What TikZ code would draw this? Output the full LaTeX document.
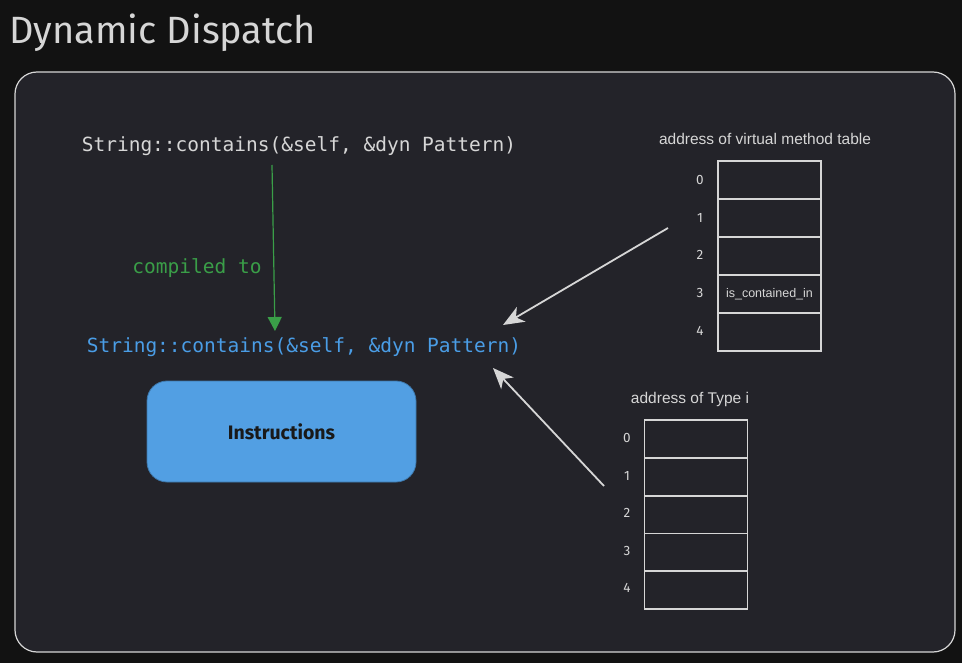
\documentclass[tikz,border=0pt]{standalone}
\usepackage{fontspec}
\setmainfont{Liberation Sans}
\newfontfamily\handf{Fira Sans}
\newfontfamily\monof{DejaVu Sans Mono}
\usetikzlibrary{arrows.meta}
\definecolor{canvas}{HTML}{121212}
\definecolor{panel}{HTML}{232329}
\definecolor{ink}{HTML}{D6D6D6}
\definecolor{codeblue}{HTML}{4A9DE6}
\definecolor{codegreen}{HTML}{3A9E48}
\definecolor{boxblue}{HTML}{529FE3}
\begin{document}
\begin{tikzpicture}[x=1pt,y=-1pt,
  code/.style={font=\monof\fontsize{19.5}{22}\selectfont, inner sep=0pt},
  cell/.style={draw=ink, line width=1.6, minimum width=103, minimum height=38, inner sep=0pt},
  idx/.style={text=ink, font=\handf\fontsize{13.5}{15}\selectfont, inner sep=0pt},
  lbl/.style={text=ink, font=\fontsize{15.5}{18}\selectfont, inner sep=0pt},
  wharrow/.style={draw=ink, line width=1.8, -{Stealth[length=21,width=17,inset=6]}},
]
\useasboundingbox (0,0) rectangle (962,663);
\fill[canvas] (0,0) rectangle (962,663);
\draw[ink, fill=panel, rounded corners=22, line width=1.2] (15,72) rectangle (955,652);

\node[anchor=west, text=ink, inner sep=0pt, font=\handf\fontsize{38}{42}\selectfont] (title) at (9,33) {Dynamic Dispatch};

\node[code, text=ink] (src) at (299,146) {String::contains(\&self, \&dyn Pattern)};
\node[code, text=codeblue] (dst) at (304,347) {String::contains(\&self, \&dyn Pattern)};
\node[code, text=codegreen] (comp) at (197,268) {compiled to};

\coordinate (g1) at (272,165);
\coordinate (g2) at (275,331);
\draw[codegreen, line width=1.2, -{Triangle[length=14,width=14]}] (g1) -- (g2);

\node[draw=boxblue!75!black, line width=0.8, fill=boxblue, rounded corners=20, minimum width=269, minimum height=101, inner sep=0pt,
  font=\handf\bfseries\fontsize{19.5}{22}\selectfont, text=black!90] (instr) at (281.5,431.5) {Instructions};

% virtual method table
\node[lbl] (vlbl) at (765,139) {address of virtual method table};
\foreach \i in {0,...,4} {
  \node[cell] (v\i) at (769.5,{180+38*\i}) {};
  \node[idx] (vi\i) at (700,{180+37.7*\i}) {\i};
}
\node[text=ink, font=\fontsize{12.5}{14}\selectfont, inner sep=0pt] (vt3) at (v3) {is\_contained\_in};

% type i table
\node[lbl] (tlbl) at (690,399) {address of Type i};
\foreach \i in {0,...,4} {
  \node[cell] (t\i) at (696,{439+37.8*\i}) {};
  \node[idx] (ti\i) at (627,{438+37.5*\i}) {\i};
}

\coordinate (a1s) at (668,228);
\coordinate (a1e) at (503,325);
\draw[wharrow] (a1s) -- (a1e);
\coordinate (a2s) at (604,486);
\coordinate (a2e) at (493,368);
\draw[wharrow] (a2s) -- (a2e);
\end{tikzpicture}
\end{document}
